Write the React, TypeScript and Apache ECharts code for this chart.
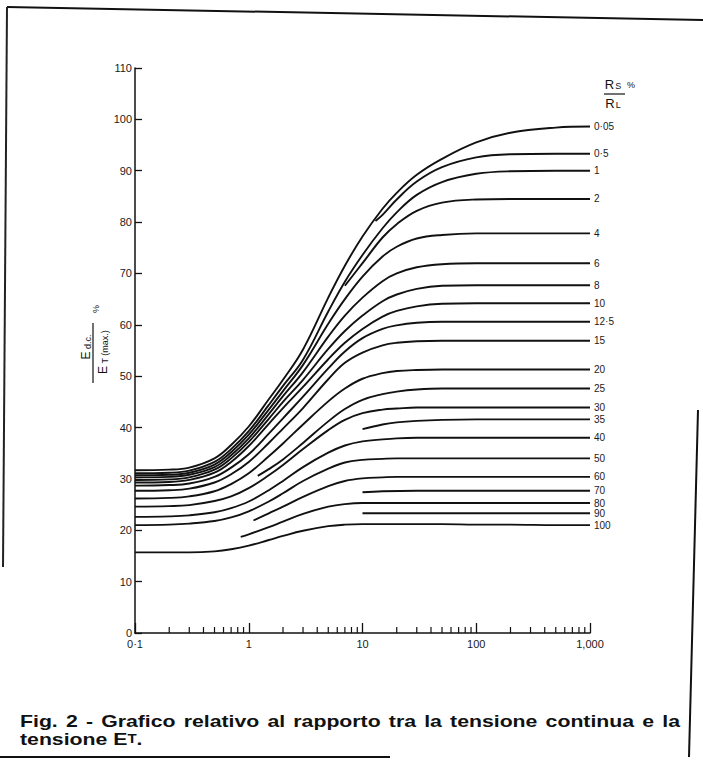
import React, { useEffect, useRef } from "react";
import * as echarts from "echarts";

const FONT = "'Liberation Sans', Arial, sans-serif";

// x positions (ωCR) shared by the curves that start at 0·1
const xGrid = [0.1, 0.2, 0.3, 0.5, 0.7, 1, 1.5, 2, 3, 5, 7, 10, 15, 20, 30, 50, 100, 200, 500, 1000];

// curve values (Edc / ET(max) %)
const y0_05 = [31.7, 31.8, 32.2, 34.0, 36.6, 40.2, 45.5, 49.3, 55.2, 65.3, 71.5, 77.2, 82.6, 85.7, 89.2, 92.3, 95.5, 97.4, 98.4, 98.6];
const x0_5 = [13, 15, 20, 30, 50, 100, 200, 500, 1000];
const y0_5 = [80.2, 81.4, 84.4, 87.9, 90.7, 92.6, 93.2, 93.3, 93.3];
const y1 = [31.1, 31.2, 31.6, 33.3, 35.8, 39.3, 44.4, 48.1, 53.2, 62.6, 68.4, 73.6, 78.8, 81.9, 85.3, 87.8, 89.4, 89.9, 90.0, 90.0];
const x2 = [7, 10, 15, 20, 30, 50, 100, 200, 1000];
const y2 = [67.6, 72.0, 77.0, 79.6, 82.2, 83.8, 84.4, 84.5, 84.5];
const y4 = [30.7, 30.8, 31.2, 32.8, 35.2, 38.6, 43.5, 47.1, 52.2, 60.2, 65.0, 69.4, 73.3, 75.2, 76.8, 77.5, 77.8, 77.8, 77.8, 77.8];
const y6 = [30.3, 30.4, 30.8, 32.3, 34.6, 37.9, 42.6, 46.1, 50.8, 57.7, 61.8, 65.3, 68.5, 70.0, 71.2, 71.8, 72.0, 72.0, 72.0, 72.0];
const y8 = [29.8, 29.9, 30.3, 31.8, 34.0, 37.2, 41.7, 45.0, 49.3, 55.3, 58.8, 61.8, 64.6, 65.9, 67.0, 67.6, 67.7, 67.7, 67.7, 67.7];
const y10 = [29.3, 29.4, 29.8, 31.2, 33.3, 36.4, 40.7, 43.8, 47.9, 53.3, 56.5, 59.2, 61.6, 62.7, 63.6, 64.1, 64.2, 64.2, 64.2, 64.2];
const y12_5 = [28.7, 28.8, 29.1, 30.4, 32.2, 34.8, 38.8, 41.8, 46.0, 51.5, 54.8, 57.4, 59.2, 59.9, 60.4, 60.6, 60.6, 60.6, 60.6, 60.6];
const y15 = [27.7, 27.8, 28.1, 29.3, 30.9, 33.3, 37.0, 39.8, 43.8, 49.4, 52.6, 54.6, 56.0, 56.5, 56.8, 56.9, 56.9, 56.9, 56.9, 56.9];
const y20 = [26.2, 26.3, 26.6, 27.6, 29.0, 31.1, 34.4, 36.9, 40.6, 45.1, 47.6, 49.5, 50.6, 51.0, 51.2, 51.3, 51.3, 51.3, 51.3, 51.3];
const x25 = [1.2, 1.5, 2, 3, 5, 7, 10, 15, 20, 30, 50, 100, 1000];
const y25 = [30.6, 31.9, 33.8, 37.0, 41.2, 43.6, 45.4, 46.5, 47.0, 47.4, 47.6, 47.6, 47.6];
const y30 = [24.6, 24.7, 24.9, 25.7, 26.6, 28.2, 30.7, 32.7, 35.8, 39.5, 41.5, 42.8, 43.5, 43.7, 43.9, 43.9, 43.9, 43.9, 43.9, 43.9];
const x35 = [10, 15, 20, 30, 50, 100, 1000];
const y35 = [39.7, 40.6, 41.0, 41.3, 41.5, 41.6, 41.6];
const y40 = [22.6, 22.7, 22.9, 23.5, 24.3, 25.6, 27.8, 29.6, 32.3, 35.1, 36.5, 37.3, 37.7, 37.9, 38.0, 38.0, 38.0, 38.0, 38.0, 38.0];
const y50 = [21.0, 21.1, 21.3, 21.8, 22.5, 23.7, 25.6, 27.2, 29.6, 32.0, 33.2, 33.7, 33.9, 34.0, 34.0, 34.0, 34.0, 34.0, 34.0, 34.0];
const x60 = [1.1, 1.5, 2, 3, 5, 7, 10, 15, 20, 50, 1000];
const y60 = [21.9, 23.3, 24.6, 26.5, 28.6, 29.6, 30.1, 30.3, 30.4, 30.4, 30.4];
const x70 = [10, 15, 30, 1000];
const y70 = [27.4, 27.6, 27.7, 27.7];
const x80 = [0.85, 1, 1.5, 2, 3, 5, 7, 10, 20, 1000];
const y80 = [18.7, 19.2, 20.6, 21.7, 23.2, 24.6, 25.1, 25.3, 25.3, 25.3];
const x90 = [10, 1000];
const y90 = [23.3, 23.3];
const y100 = [15.7, 15.7, 15.7, 15.9, 16.3, 17.0, 18.1, 18.9, 19.9, 20.8, 21.1, 21.2, 21.2, 21.2, 21.2, 21.2, 21.1, 21.1, 21.0, 21.0];

// Rs/RL % labels, top to bottom
const curveNames = ["0·05", "0·5", "1", "2", "4", "6", "8", "10", "12·5", "15", "20", "25", "30", "35", "40", "50", "60", "70", "80", "90", "100"];
const curveXs = [xGrid, x0_5, xGrid, x2, xGrid, xGrid, xGrid, xGrid, xGrid, xGrid, xGrid, x25, xGrid, x35, xGrid, xGrid, x60, x70, x80, x90, xGrid];
const curveYs = [y0_05, y0_5, y1, y2, y4, y6, y8, y10, y12_5, y15, y20, y25, y30, y35, y40, y50, y60, y70, y80, y90, y100];

// axes
const xMajorLabels: [number, string][] = [[0.1, "0·1"], [1, "1"], [10, "10"], [100, "100"], [1000, "1,000"]];
const xMinorTicks = [0.2, 0.3, 0.4, 0.5, 0.6, 0.7, 0.8, 0.9, 2, 3, 4, 5, 6, 7, 8, 9, 20, 30, 40, 50, 60, 70, 80, 90, 200, 300, 400, 500, 600, 700, 800, 900];
const yMin = 0;
const yMax = 110;
const yStep = 10;

const captionLine1 = "Fig. 2 - Grafico relativo al rapporto tra la tensione continua e la";

export default function App() {
  const ref = useRef<HTMLDivElement>(null);
  useEffect(() => {
    if (!ref.current) return;
    const chart = echarts.init(ref.current, undefined, { renderer: "svg" });

    // justified caption: measure words
    const CAP_SIZE = 17;
    const CAP_SCALE = 1.25;
    const words = captionLine1.split(" ");
    const cv = document.createElement("canvas");
    const ctx = cv.getContext("2d")!;
    const capFont = `bold ${CAP_SIZE}px ${FONT}`;
    ctx.font = capFont;
    const widths = words.map((w) => ctx.measureText(w).width * CAP_SCALE);
    const total = widths.reduce((a, b) => a + b, 0);
    const left = 20;
    const right = 680;
    const gap = (right - left - total) / (words.length - 1);
    let cx = left;
    const captionEls: any[] = words.map((w, i) => {
      const el = {
        type: "text",
        x: cx,
        y: 721,
        scaleX: CAP_SCALE,
        style: { text: w, font: capFont, fill: "#111", align: "left", verticalAlign: "middle", textAlign: "left", textVerticalAlign: "middle" },
      };
      cx += widths[i] + gap;
      return el;
    });

    const fmtX = (v: number) => {
      for (const [val, lab] of xMajorLabels) if (Math.abs(v - val) / val < 1e-6) return lab;
      return "";
    };

    const series: any[] = curveNames.map((name, i) => ({
      type: "line",
      name,
      data: curveXs[i].map((x, j) => [x, curveYs[i][j]]),
      showSymbol: false,
      smooth: 0.4,
      silent: true,
      lineStyle: { color: "#111", width: 1.9 },
      endLabel: {
        show: true,
        formatter: () => name,
        distance: 4,
        fontFamily: FONT,
        fontSize: 10,
        color: "#1a1a1a",
      },
    }));

    series.push({
      type: "custom",
      coordinateSystem: "cartesian2d",
      silent: true,
      data: xMinorTicks.map((v) => [v, 0]),
      renderItem: (_p: any, api: any) => {
        const p = api.coord([api.value(0), 0]);
        return {
          type: "line",
          shape: { x1: p[0], y1: p[1], x2: p[0], y2: p[1] - 6 },
          style: { stroke: "#111", lineWidth: 1.2 },
        };
      },
    });

    const sub = (extra: any = {}) => ({ fontFamily: FONT, fill: "#111", ...extra });

    chart.setOption({
      animation: false,
      backgroundColor: "#fff",
      grid: { left: 135, right: 113, top: 68, bottom: 133, containLabel: false },
      xAxis: {
        type: "log",
        logBase: 10,
        min: 0.1,
        max: 1000,
        axisLine: { lineStyle: { color: "#111", width: 1.5 } },
        axisTick: { inside: true, length: 10, lineStyle: { color: "#111", width: 1.3 } },
        axisLabel: { formatter: fmtX, fontFamily: FONT, fontSize: 11, color: "#1a1a1a", margin: 5 },
        splitLine: { show: false },
        minorTick: { show: false },
      },
      yAxis: {
        type: "value",
        min: yMin,
        max: yMax,
        interval: yStep,
        axisLine: { show: true, lineStyle: { color: "#111", width: 1.5 } },
        axisTick: { show: true, inside: true, length: 7, lineStyle: { color: "#111", width: 1.3 } },
        axisLabel: { fontFamily: FONT, fontSize: 11, color: "#1a1a1a", margin: 3 },
        splitLine: { show: false },
      },
      series,
      graphic: [
        // page frame
        { type: "line", shape: { x1: 7, y1: 7, x2: 703, y2: 20 }, style: { stroke: "#111", lineWidth: 2 } },
        { type: "line", shape: { x1: 7, y1: 7, x2: 3, y2: 567 }, style: { stroke: "#222", lineWidth: 2 } },
        { type: "line", shape: { x1: 0, y1: 757, x2: 390, y2: 757 }, style: { stroke: "#111", lineWidth: 2 } },
        { type: "line", shape: { x1: 698, y1: 410, x2: 689, y2: 757 }, style: { stroke: "#111", lineWidth: 2 } },
        // Rs / RL %
        {
          type: "text", x: 613, y: 84,
          style: {
            text: "{r|R}{s|S}", align: "center", verticalAlign: "middle", textAlign: "center", textVerticalAlign: "middle",
            rich: { r: sub({ fontSize: 13 }), s: sub({ fontSize: 9, padding: [4, 0, 0, 1] }) },
          },
        },
        { type: "line", shape: { x1: 604, y1: 94, x2: 625, y2: 94 }, style: { stroke: "#111", lineWidth: 1.2 } },
        {
          type: "text", x: 613, y: 103,
          style: {
            text: "{r|R}{s|L}", align: "center", verticalAlign: "middle", textAlign: "center", textVerticalAlign: "middle",
            rich: { r: sub({ fontSize: 13 }), s: sub({ fontSize: 9, padding: [4, 0, 0, 1] }) },
          },
        },
        { type: "text", x: 631, y: 85, style: { text: "%", font: `9px ${FONT}`, fill: "#111", align: "center", verticalAlign: "middle", textAlign: "center", textVerticalAlign: "middle" } },
        // y-axis title: Ed.c. / ET(max.) %
        {
          type: "text", x: 86, y: 347, rotation: Math.PI / 2,
          style: {
            text: "{e|E}{s| d.c.}", align: "center", verticalAlign: "middle", textAlign: "center", textVerticalAlign: "middle",
            rich: { e: sub({ fontSize: 12 }), s: sub({ fontSize: 9, padding: [4, 0, 0, 0] }) },
          },
        },
        { type: "line", shape: { x1: 93, y1: 323, x2: 93, y2: 383 }, style: { stroke: "#111", lineWidth: 1.2 } },
        {
          type: "text", x: 103, y: 352, rotation: Math.PI / 2,
          style: {
            text: "{e|E}{s| T (max.)}", align: "center", verticalAlign: "middle", textAlign: "center", textVerticalAlign: "middle",
            rich: { e: sub({ fontSize: 12 }), s: sub({ fontSize: 9, padding: [4, 0, 0, 0] }) },
          },
        },
        { type: "text", x: 96, y: 309, rotation: Math.PI / 2, style: { text: "%", font: `9px ${FONT}`, fill: "#111", align: "center", verticalAlign: "middle", textAlign: "center", textVerticalAlign: "middle" } },
        // caption
        ...captionEls,
        {
          type: "text", x: 20, y: 739, scaleX: CAP_SCALE,
          style: {
            text: "{n|tensione E}{s|T}{n|.}", align: "left", verticalAlign: "middle", textAlign: "left", textVerticalAlign: "middle",
            rich: { n: sub({ fontSize: CAP_SIZE, fontWeight: "bold" }), s: sub({ fontSize: 12, fontWeight: "bold" }) },
          },
        },
      ],
    });
    return () => chart.dispose();
  }, []);
  return (
    <div
      ref={ref}
      style={{ position: "absolute", left: 0, top: 0, width: 703, height: 766, background: "#fff" }}
    />
  );
}
